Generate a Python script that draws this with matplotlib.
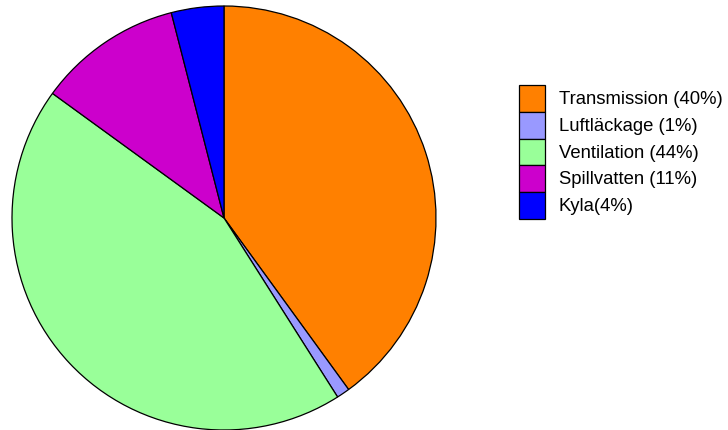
import matplotlib
matplotlib.use("Agg")
import matplotlib.pyplot as plt
from matplotlib.patches import Rectangle

# data
labels = ["Transmission (40%)", "Luftläckage (1%)", "Ventilation (44%)",
          "Spillvatten (11%)", "Kyla(4%)"]
values = [40, 1, 44, 11, 4]
colors = ["#FF8000", "#9999FF", "#99FF99", "#CC00CC", "#0000FF"]

W, H = 728, 431
fig = plt.figure(figsize=(W / 100, H / 100), dpi=100)
plt.rcParams["font.family"] = ["Liberation Sans", "DejaVu Sans"]

# pie: center (224, 219) px, radius 212 px
cx, cy, r = 224, 219, 212
ax = fig.add_axes([(cx - r) / W, (H - cy - r) / H, 2 * r / W, 2 * r / H])
wedges, _ = ax.pie(values, colors=colors, startangle=90, counterclock=False,
                   radius=1.0, wedgeprops=dict(edgecolor="black", linewidth=0.9))
for w in wedges:
    w.set_clip_on(False)
ax.set_xlim(-1, 1)
ax.set_ylim(-1, 1)
ax.set_aspect("equal")
ax.axis("off")

# legend drawn in pixel coordinates
box_x, box_w = 519, 26
top, box_h = 86, 26.8
for i, (lab, col) in enumerate(zip(labels, colors)):
    y0 = top + i * box_h
    fig.patches.append(Rectangle((box_x / W, 1 - (y0 + box_h) / H), box_w / W, box_h / H,
                                 transform=fig.transFigure, facecolor=col,
                                 edgecolor="black", linewidth=0.9))
    fig.text(559 / W, 1 - (y0 + box_h / 2) / H, lab, ha="left", va="center",
             fontsize=13.3, color="black")

fig.savefig("out.png", dpi=100)
